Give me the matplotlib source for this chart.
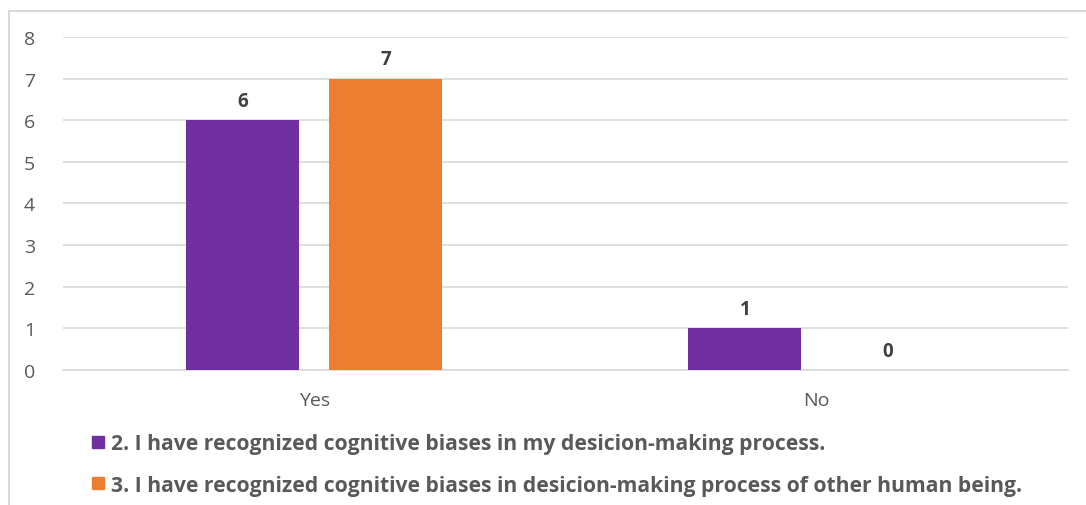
import numpy as np
import matplotlib
matplotlib.use("Agg")
from matplotlib import pyplot as plt
from matplotlib.lines import Line2D

categories = ["Yes", "No"]
series_names = [
    "2. I have recognized cognitive biases in my desicion-making process.",
    "3. I have recognized cognitive biases in desicion-making process of other human being.",
]
series_values = [
    [6, 1],
    [7, 0],
]
colors = ["#7030A0", "#ED7D31"]
y_ticks = [0, 1, 2, 3, 4, 5, 6, 7, 8]

plt.rcParams['font.family'] = ['Open Sans', 'DejaVu Sans']

fig = plt.figure(figsize=(10.86, 5.06), dpi=100)
ax = fig.add_axes([0.058, 0.267, 0.925, 0.658])

# chart frame (only left and top edges are visible in the crop)
fig.add_artist(Line2D([9/1086, 9/1086], [0, 1-12/506], color="#D9D9D9", lw=1.5))
fig.add_artist(Line2D([9/1086, 1], [1-12/506, 1-12/506], color="#D9D9D9", lw=1.5))

x = np.arange(len(categories))
width = 0.225
offsets = [-0.1425, 0.1425]
for vals, off, col in zip(series_values, offsets, colors):
    bars = ax.bar(x + off, vals, width, color=col, zorder=3)
    for b, v in zip(bars, vals):
        ax.text(b.get_x() + b.get_width()/2, v + 0.22, str(v), ha="center", va="bottom",
                fontsize=13.5, fontweight="bold", color="#404040")

ax.set_xlim(-0.5, 1.5)
ax.set_ylim(0, 8)
ax.set_yticks(y_ticks)
ax.set_xticks(x)
ax.set_xticklabels(categories)
ax.grid(axis="y", color="#D9D9D9", lw=1.2, zorder=0)
for s in ["top", "right", "left"]:
    ax.spines[s].set_visible(False)
ax.spines["bottom"].set_color("#D9D9D9")
ax.spines["bottom"].set_linewidth(1.2)
ax.tick_params(axis="both", length=0, colors="#595959", labelsize=14)
ax.tick_params(axis="y", pad=20)
ax.tick_params(axis="x", pad=15)

# legend below the plot, left aligned
handles = [plt.Rectangle((0, 0), 1, 1, color=c) for c in colors]
fig.legend(handles, series_names, loc="upper left", bbox_to_anchor=(0.077, 0.158),
           frameon=False, ncol=1, handlelength=0.55, handleheight=0.55, handletextpad=0.35,
           labelspacing=0.95, borderaxespad=0,
           prop={"size": 15.2, "weight": "bold"}, labelcolor="#595959")

fig.savefig("out.png", dpi=100)
